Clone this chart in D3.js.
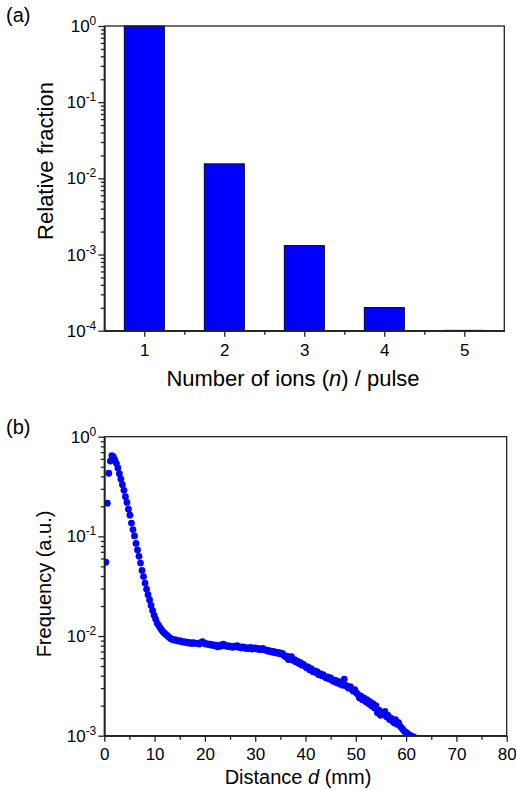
<!DOCTYPE html>
<html>
<head>
<meta charset="utf-8">
<script src="https://cdn.jsdelivr.net/npm/d3@7"></script>
<style>
  body { margin: 0; background: #fff; }
  svg { display: block; font-family: Arial, "Liberation Sans", sans-serif; }
  .axis path, .axis line { stroke: #222; stroke-width: 1.3; }
  .axis text { font-size: 17px; fill: #000; font-family: Arial, "Liberation Sans", sans-serif; }
</style>
</head>
<body>
<svg id="chart" width="516" height="791"></svg>
<script>
// (a) ion count distribution
let ionCounts = [1, 2, 3, 4, 5];
let relFraction = [1.0, 0.0155, 0.00131, 0.000201, 0.000101];

// (b) distance distribution
let distanceMm = [
  0.3,0.6,0.9,1.2,1.5,1.8,2.1,2.4,2.7,3.0,
  3.3,3.6,3.9,4.2,4.5,4.8,5.1,5.4,5.7,6.0,
  6.3,6.6,6.9,7.2,7.5,7.8,8.1,8.4,8.7,9.0,
  9.3,9.6,9.9,10.2,10.5,10.8,11.1,11.4,11.7,12.0,
  12.3,12.6,12.9,13.2,13.5,13.8,14.1,14.4,14.7,15.0,
  15.3,15.6,15.9,16.2,16.5,16.8,17.1,17.4,17.7,18.0,
  18.3,18.6,18.9,19.2,19.5,19.8,20.1,20.4,20.7,21.0,
  21.3,21.6,21.9,22.2,22.5,22.8,23.1,23.4,23.7,24.0,
  24.3,24.6,24.9,25.2,25.5,25.8,26.1,26.4,26.7,27.0,
  27.3,27.6,27.9,28.2,28.5,28.8,29.1,29.4,29.7,30.0,
  30.3,30.6,30.9,31.2,31.5,31.8,32.1,32.4,32.7,33.0,
  33.3,33.6,33.9,34.2,34.5,34.8,35.1,35.4,35.7,36.0,
  36.3,36.6,36.9,37.2,37.5,37.8,38.1,38.4,38.7,39.0,
  39.3,39.6,39.9,40.2,40.5,40.8,41.1,41.4,41.7,42.0,
  42.3,42.6,42.9,43.2,43.5,43.8,44.1,44.4,44.7,45.0,
  45.3,45.6,45.9,46.2,46.5,46.8,47.1,47.4,47.7,48.0,
  48.3,48.6,48.9,49.2,49.5,49.8,50.1,50.4,50.7,51.0,
  51.3,51.6,51.9,52.2,52.5,52.8,53.1,53.4,53.7,54.0,
  54.3,54.6,54.9,55.2,55.5,55.8,56.1,56.4,56.7,57.0,
  57.3,57.6,57.9,58.2,58.5,58.8,59.1,59.4,59.7,60.0,
  60.3,60.6,60.9,61.2,61.5,61.8
];
let frequency = [
  0.055,0.215,0.43,0.57,0.645,0.63,0.585,0.54,0.485,0.425,
  0.375,0.33,0.29,0.25,0.219,0.187,0.163,0.136,0.117,0.101,
  0.085,0.073,0.063,0.054,0.0455,0.0395,0.034,0.0295,0.026,0.023,
  0.0203,0.018,0.0162,0.0148,0.0135,0.0128,0.0121,0.0115,0.011,0.0106,
  0.0103,0.0100,0.0097,0.0094,0.0093,0.0091,0.0092,0.0090,0.0089,0.0090,
  0.0088,0.0087,0.0088,0.0086,0.0087,0.0085,0.0086,0.0084,0.0086,0.0085,
  0.0084,0.0085,0.0083,0.0086,0.0088,0.0085,0.0083,0.0084,0.0082,0.0083,
  0.0081,0.0082,0.0080,0.0081,0.0078,0.0080,0.0079,0.0082,0.0083,0.0080,
  0.0079,0.0080,0.0078,0.0079,0.0077,0.0079,0.0078,0.0080,0.0077,0.0078,
  0.0076,0.0078,0.0077,0.0075,0.0076,0.0075,0.0077,0.0074,0.0075,0.0076,
  0.0074,0.0075,0.0073,0.0074,0.0075,0.0073,0.0072,0.0072,0.0070,0.0071,
  0.0069,0.0070,0.0068,0.0069,0.0067,0.0068,0.0066,0.0067,0.0064,0.0062,
  0.0063,0.0058,0.0060,0.0062,0.0057,0.0058,0.0055,0.0056,0.0053,0.0054,
  0.0051,0.0052,0.0050,0.0048,0.0049,0.0046,0.0047,0.0044,0.0045,0.0043,
  0.0044,0.0041,0.0042,0.0040,0.0041,0.0039,0.0038,0.0039,0.0037,0.0038,
  0.0036,0.0035,0.0036,0.0034,0.0035,0.0033,0.0034,0.0032,0.0037,0.0032,
  0.0031,0.0030,0.0031,0.0029,0.0028,0.0029,0.0027,0.0026,0.0024,0.0025,
  0.0023,0.0024,0.0022,0.0023,0.0021,0.0022,0.0020,0.0021,0.0019,0.0020,
  0.0017,0.0018,0.0016,0.0017,0.00165,0.00175,0.00155,0.0016,0.00145,0.0015,
  0.0014,0.00135,0.00145,0.0013,0.00135,0.00125,0.0012,0.00115,0.0011,0.00108,
  0.00104,0.00102,0.001,0.00098,0.00097,0.00095
];

let xTicksA = [1, 2, 3, 4, 5];
let xMinorA = [1.5, 2.5, 3.5, 4.5];
let xTicksB = [0, 10, 20, 30, 40, 50, 60, 70, 80];
let xMinorB = [5, 15, 25, 35, 45, 55, 65, 75];
let decadesA = [-4, -3, -2, -1, 0];
let decadesB = [-3, -2, -1, 0];

let svg = d3.select('#chart');

function logMinor(lo, hi) {
  let out = [];
  for (let e = lo; e < hi; e++)
    for (let m = 2; m <= 9; m++) out.push(m * Math.pow(10, e));
  return out;
}

function decadeLabels(g, y, decades) {
  decades.forEach(function(e) {
    let t = g.append('text')
      .attr('x', -8)
      .attr('y', y(Math.pow(10, e)) + 6)
      .attr('text-anchor', 'end')
      .style('font-size', '17px');
    t.append('tspan').text('10');
    t.append('tspan').text(e === 0 ? '0' : String(e))
      .attr('dy', -7).style('font-size', '12px');
  });
}

function frame(g, w, h) {
  g.append('rect').attr('width', w).attr('height', h)
    .attr('fill', 'none').attr('stroke', '#222').attr('stroke-width', 1.3);
}

// ---------- panel (a)
let A = {left: 104.3, top: 26, width: 400, height: 304.7};
let ga = svg.append('g').attr('transform', 'translate(' + A.left + ',' + A.top + ')');

let xa = d3.scaleLinear().domain([0.5, 5.5]).range([0, A.width]);
let ya = d3.scaleLog().domain([1e-4, 1]).range([A.height, 0]);

ga.selectAll('rect.bar')
  .data(ionCounts)
  .enter().append('rect')
  .attr('class', 'bar')
  .attr('x', (d) => xa(d - 0.25))
  .attr('width', xa(1.5) - xa(1))
  .attr('y', (d, i) => ya(relFraction[i]))
  .attr('height', (d, i) => A.height - ya(relFraction[i]))
  .attr('fill', '#0000ff')
  .attr('stroke', '#000033')
  .attr('stroke-width', 1);

frame(ga, A.width, A.height);

ga.append('g').attr('class', 'axis')
  .attr('transform', 'translate(0,' + A.height + ')')
  .call(d3.axisBottom(xa).tickValues(xTicksA).tickSize(6).tickSizeOuter(0).tickPadding(7).tickFormat(d3.format('d')));
ga.append('g').attr('class', 'axis')
  .attr('transform', 'translate(0,' + A.height + ')')
  .call(d3.axisBottom(xa).tickValues(xMinorA).tickSize(4).tickSizeOuter(0).tickFormat(''));
ga.append('g').attr('class', 'axis')
  .call(d3.axisLeft(ya).tickValues(decadesA.map((e) => Math.pow(10, e))).tickSize(6).tickSizeOuter(0).tickFormat(''));
ga.append('g').attr('class', 'axis')
  .call(d3.axisLeft(ya).tickValues(logMinor(-4, 0)).tickSize(3.5).tickSizeOuter(0).tickFormat(''));
decadeLabels(ga, ya, decadesA);

let xlabA = svg.append('text')
  .attr('x', 293).attr('y', 386)
  .attr('text-anchor', 'middle')
  .style('font-size', '22px');
xlabA.append('tspan').text('Number of ions (');
xlabA.append('tspan').text('n').style('font-style', 'italic');
xlabA.append('tspan').text(') / pulse');

svg.append('text')
  .attr('transform', 'translate(53,161) rotate(-90)')
  .attr('text-anchor', 'middle')
  .style('font-size', '22px')
  .text('Relative fraction');

svg.append('text').attr('x', 6).attr('y', 22).style('font-size', '20px').text('(a)');

// ---------- panel (b)
let B = {left: 104.3, top: 436.7, width: 402.4, height: 299};
let gb = svg.append('g').attr('transform', 'translate(' + B.left + ',' + B.top + ')');

let xb = d3.scaleLinear().domain([0, 80]).range([0, B.width]);
let yb = d3.scaleLog().domain([1e-3, 1]).range([B.height, 0]);

gb.append('clipPath').attr('id', 'clipB')
  .append('rect').attr('width', B.width).attr('height', B.height);

gb.append('g').attr('clip-path', 'url(#clipB)')
  .selectAll('circle')
  .data(distanceMm)
  .enter().append('circle')
  .attr('cx', (d) => xb(d))
  .attr('cy', (d, i) => yb(frequency[i]))
  .attr('r', 3.4)
  .attr('fill', '#0000ff');

frame(gb, B.width, B.height);

gb.append('g').attr('class', 'axis')
  .attr('transform', 'translate(0,' + B.height + ')')
  .call(d3.axisBottom(xb).tickValues(xTicksB).tickSize(6).tickSizeOuter(0).tickPadding(6).tickFormat(d3.format('d')));
gb.append('g').attr('class', 'axis')
  .attr('transform', 'translate(0,' + B.height + ')')
  .call(d3.axisBottom(xb).tickValues(xMinorB).tickSize(4).tickSizeOuter(0).tickFormat(''));
gb.append('g').attr('class', 'axis')
  .call(d3.axisLeft(yb).tickValues(decadesB.map((e) => Math.pow(10, e))).tickSize(6).tickSizeOuter(0).tickFormat(''));
gb.append('g').attr('class', 'axis')
  .call(d3.axisLeft(yb).tickValues(logMinor(-3, 0)).tickSize(3.5).tickSizeOuter(0).tickFormat(''));
decadeLabels(gb, yb, decadesB);

let xlabB = svg.append('text')
  .attr('x', 298).attr('y', 784)
  .attr('text-anchor', 'middle')
  .style('font-size', '20px');
xlabB.append('tspan').text('Distance ');
xlabB.append('tspan').text('d').style('font-style', 'italic');
xlabB.append('tspan').text(' (mm)');

svg.append('text')
  .attr('transform', 'translate(51,584) rotate(-90)')
  .attr('text-anchor', 'middle')
  .style('font-size', '20px')
  .text('Frequency (a.u.)');

svg.append('text').attr('x', 6).attr('y', 434).style('font-size', '20px').text('(b)');
</script>
</body>
</html>
